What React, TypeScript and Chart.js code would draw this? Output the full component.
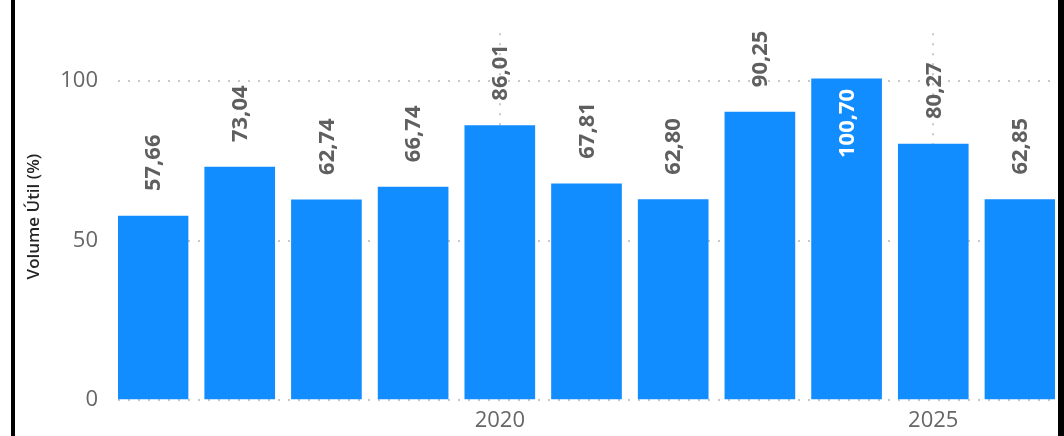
import React, { useEffect, useRef } from "react";
import { Chart, registerables } from "chart.js";

Chart.register(...registerables);

const years = [2016, 2017, 2018, 2019, 2020, 2021, 2022, 2023, 2024, 2025, 2026];
const volumeUtil = [57.66, 73.04, 62.74, 66.74, 86.01, 67.81, 62.8, 90.25, 100.7, 80.27, 62.85];
const yTicks = [0, 50, 100];
const xTicks = [2020, 2025];
const yTitle = "Volume Útil (%)";

const FONT = "'Open Sans', 'DejaVu Sans', sans-serif";

const labelPlugin = {
  id: "barLabels",
  afterDatasetsDraw(chart: any) {
    const ctx = chart.ctx;
    const meta = chart.getDatasetMeta(0);
    ctx.save();
    ctx.font = `bold 22px ${FONT}`;
    ctx.textBaseline = "middle";
    meta.data.forEach((bar: any, i: number) => {
      const txt = volumeUtil[i].toFixed(2).replace(".", ",");
      const w = ctx.measureText(txt).width;
      const x = bar.x;
      const y = bar.y;
      let start: number;
      let color: string;
      if (y - 25 - w < 10) {
        start = y + 10 + w;
        color = "#ffffff";
      } else {
        start = y - 25;
        color = "#5f5f5f";
      }
      ctx.save();
      ctx.translate(x, start);
      ctx.rotate(-Math.PI / 2);
      ctx.fillStyle = color;
      ctx.textAlign = "left";
      ctx.fillText(txt, 0, 1);
      ctx.restore();
    });
    ctx.restore();
  },
};

export default function App() {
  const ref = useRef<HTMLCanvasElement>(null);
  useEffect(() => {
    const half = 35 / 86.6;
    const chart = new Chart(ref.current!, {
      type: "bar",
      data: {
        datasets: [
          {
            data: years.map((y, i) => ({ x: y, y: volumeUtil[i] })),
            backgroundColor: "#118DFF",
            barThickness: 70,
          },
        ],
      },
      options: {
        animation: false,
        responsive: false,
        events: [],
        layout: { padding: { left: 0, right: 9, top: 31, bottom: 0 } },
        plugins: { legend: { display: false }, tooltip: { enabled: false } },
        scales: {
          x: {
            type: "linear",
            offset: false,
            min: years[0] - half,
            max: years[years.length - 1] + half,
            afterBuildTicks: (s: any) => {
              s.ticks = xTicks.map((v) => ({ value: v }));
            },
            afterFit: (s: any) => {
              s.height = 36;
            },
            grid: {
              offset: false,
              color: "#c8c8c8",
              lineWidth: 2,
              drawTicks: false,
            },
            border: { display: false, dash: [2, 8] },
            ticks: {
              padding: 8,
              color: "#666666",
              font: { family: FONT, size: 22 },
              callback: (v: any) => String(v),
              maxRotation: 0,
            },
          },
          y: {
            min: 0,
            max: 115,
            afterBuildTicks: (s: any) => {
              s.ticks = yTicks.map((v) => ({ value: v }));
            },
            afterFit: (s: any) => {
              s.width = 118;
            },
            grid: {
              color: "#c8c8c8",
              lineWidth: 2,
              drawTicks: false,
            },
            border: { display: false, dash: [2, 8] },
            ticks: {
              padding: 20,
              color: "#666666",
              font: { family: FONT, size: 22 },
            },
            title: {
              display: true,
              text: yTitle,
              color: "#252423",
              font: { family: FONT, size: 17, weight: "600" },
              padding: { top: 24, bottom: 0 },
            },
          },
        },
      },
      plugins: [labelPlugin],
    } as any);
    return () => chart.destroy();
  }, []);
  return (
    <div style={{ position: "fixed", left: 0, top: 0, width: 1064, height: 436, background: "#fff" }}>
      <canvas ref={ref} width={1064} height={436} style={{ position: "absolute", left: 0, top: 0 }} />
      <div style={{ position: "absolute", left: 11, top: 0, width: 4, height: 436, background: "#000" }} />
      <div style={{ position: "absolute", left: 1058, top: 0, width: 6, height: 436, background: "#000" }} />
    </div>
  );
}
